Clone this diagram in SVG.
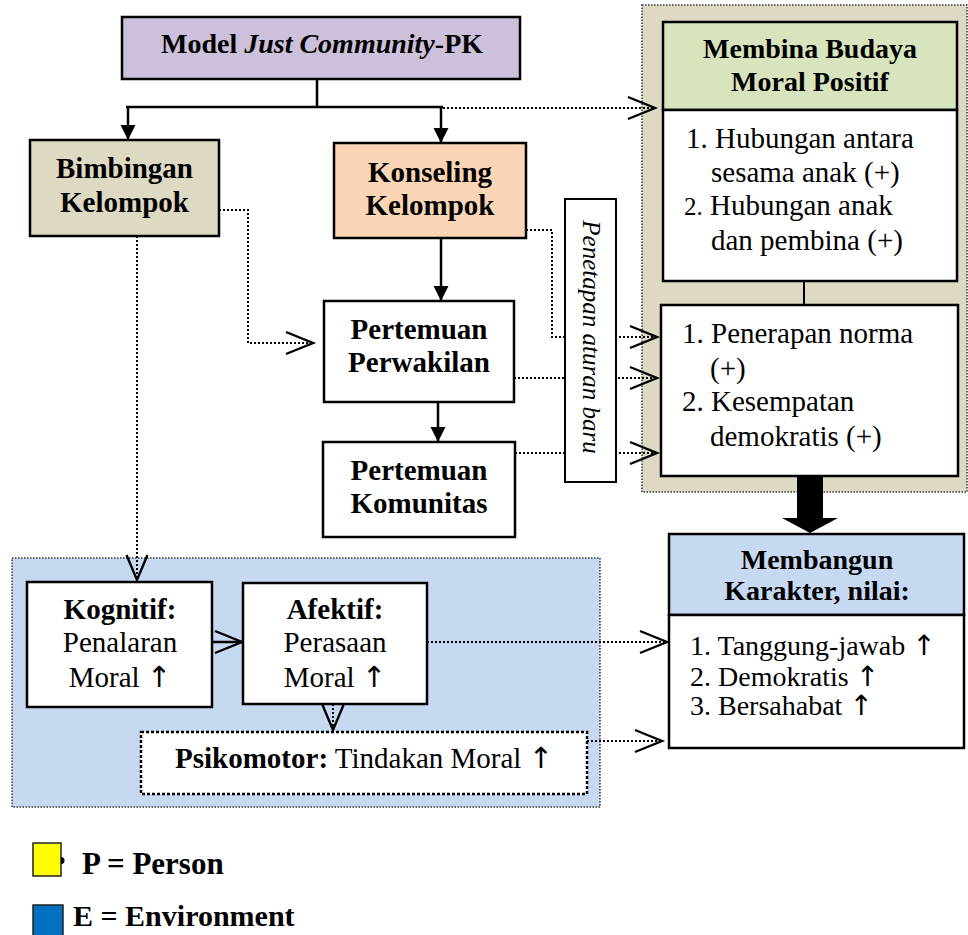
<svg xmlns="http://www.w3.org/2000/svg" width="968" height="935" viewBox="0 0 968 935">
<defs>
<style>
text{font-family:"Liberation Serif","DejaVu Serif",serif;fill:#000}
.b{font-weight:bold;font-size:29px}
.r{font-size:29px}
.c{text-anchor:middle}
.up{font-family:"DejaVu Sans",sans-serif;font-size:1em;fill:#000;font-weight:normal}
.box{stroke:#000;stroke-width:2.5}
.cont{stroke:#333;stroke-width:1.5;stroke-dasharray:1.5 1.5}
.sol{fill:none;stroke:#000;stroke-width:2.5}
.dot{fill:none;stroke:#000;stroke-width:2;stroke-dasharray:2 2}
</style>
<marker id="tri" markerUnits="userSpaceOnUse" markerWidth="16" markerHeight="16" refX="15" refY="7.5" orient="auto" overflow="visible">
<path d="M0,0 L15,7.5 L0,15 z" fill="#000"/>
</marker>
<marker id="open" markerUnits="userSpaceOnUse" markerWidth="30" markerHeight="24" refX="27" refY="11" orient="auto" overflow="visible">
<path d="M0,0 L27,11 L0,22" fill="none" stroke="#000" stroke-width="2.4"/>
</marker>
<marker id="openS" markerUnits="userSpaceOnUse" markerWidth="30" markerHeight="24" refX="25" refY="10.5" orient="auto" overflow="visible">
<path d="M0,0 L25,10.5 L0,21" fill="none" stroke="#000" stroke-width="2.4"/>
</marker>
</defs>

<g id="containers">
<rect id="tan-container" x="642" y="5" width="325" height="487" fill="#ddd9c3" class="cont"/>
<rect id="blue-container" x="12" y="558" width="588" height="249" fill="#c6d9f1" class="cont"/>
</g>

<g id="connectors">
<path class="sol" d="M317,79 V107 M126,107 H443"/>
<path class="sol" d="M128,107 V140" marker-end="url(#tri)"/>
<path class="sol" d="M441,107 V143" marker-end="url(#tri)"/>
<path class="dot" d="M443,108 H655" marker-end="url(#open)"/>
<path class="dot" d="M219,210 H248 V343 H313" marker-end="url(#open)"/>
<path class="dot" d="M137,236 V580" marker-end="url(#openS)"/>
<path class="sol" d="M441,238 V301" marker-end="url(#tri)"/>
<path class="sol" d="M438,402 V442" marker-end="url(#tri)"/>
<path class="dot" d="M526,230 H552 V337 H657" marker-end="url(#open)"/>
<path class="dot" d="M514,378 H657" marker-end="url(#open)"/>
<path class="dot" d="M515,453 H657" marker-end="url(#open)"/>
<path fill="none" stroke="#000" stroke-width="2" d="M804,281 V305"/>
<polygon points="797,476 823,476 823,518 838,518 810,533 782,518 797,518" fill="#000"/>
<path class="sol" d="M212,642 H242" marker-end="url(#open)"/>
<path class="dot" d="M333,704 V730" marker-end="url(#openS)"/>
<path class="dot" d="M427,642 H667" marker-end="url(#open)"/>
<path class="dot" d="M587,741 H662" marker-end="url(#open)"/>
</g>

<g id="model">
<rect x="122" y="17" width="398" height="62" fill="#ccc0da" class="box"/>
<text x="322" y="53" class="c" style="font-weight:bold;font-size:28px">Model <tspan font-style="italic">Just Community</tspan>-PK</text>
</g>

<g id="bimbingan">
<rect x="30" y="140" width="189" height="96" fill="#ddd9c3" class="box"/>
<text x="124.5" y="178" class="b c">Bimbingan</text>
<text x="124.5" y="212" class="b c">Kelompok</text>
</g>

<g id="konseling">
<rect x="334" y="143" width="192" height="95" fill="#fbd5b5" class="box"/>
<text x="430" y="182" class="b c">Konseling</text>
<text x="430" y="215" class="b c">Kelompok</text>
</g>

<g id="perwakilan">
<rect x="324" y="301" width="190" height="101" fill="#fff" class="box"/>
<text x="419" y="339" class="b c">Pertemuan</text>
<text x="419" y="372" class="b c">Perwakilan</text>
</g>

<g id="komunitas">
<rect x="323" y="442" width="192" height="95" fill="#fff" class="box"/>
<text x="419" y="480" class="b c">Pertemuan</text>
<text x="419" y="513" class="b c">Komunitas</text>
</g>

<g id="penetapan">
<rect x="565" y="199" width="51" height="283" fill="#fff" stroke="#000" stroke-width="2"/>
<text transform="translate(583,337) rotate(90)" class="c" style="font-style:italic;font-size:25px">Penetapan aturan baru</text>
</g>

<g id="membina">
<rect x="663" y="22" width="294" height="88" fill="#d7e4bd" class="box"/>
<text x="810" y="58" class="c" style="font-weight:bold;font-size:28px">Membina Budaya</text>
<text x="810" y="91" class="c" style="font-weight:bold;font-size:28px">Moral Positif</text>
<rect x="663" y="110" width="294" height="171" fill="#fff" class="box"/>
<text x="686" y="148" class="r">1. Hubungan antara</text>
<text x="711" y="182" class="r">sesama anak (+)</text>
<text x="684" y="215" class="r"><tspan font-size="25">2.</tspan> Hubungan anak</text>
<text x="711" y="250" class="r">dan pembina (+)</text>
</g>

<g id="norma">
<rect x="661" y="305" width="297" height="171" fill="#fff" class="box"/>
<text x="682" y="343" class="r">1. Penerapan norma</text>
<text x="710" y="378" class="r">(+)</text>
<text x="682" y="411" class="r">2. Kesempatan</text>
<text x="710" y="446" class="r">demokratis (+)</text>
</g>

<g id="membangun">
<rect x="669" y="534" width="295" height="81" fill="#c6d9f1" class="box"/>
<text x="817" y="569" class="c" style="font-weight:bold;font-size:28px">Membangun</text>
<text x="817" y="600" class="c" style="font-weight:bold;font-size:28px">Karakter, nilai:</text>
<rect x="669" y="615" width="295" height="133" fill="#fff" class="box"/>
<text x="690" y="655" style="font-size:28px">1. Tanggung-jawab <tspan class="up">↑</tspan></text>
<text x="690" y="686" style="font-size:28px">2. Demokratis <tspan class="up">↑</tspan></text>
<text x="690" y="715" style="font-size:28px">3. Bersahabat <tspan class="up">↑</tspan></text>
</g>

<g id="kognitif">
<rect x="27" y="582" width="185" height="125" fill="#fff" class="box"/>
<text x="120" y="619" class="b c">Kognitif:</text>
<text x="120" y="652" class="r c">Penalaran</text>
<text x="120" y="687" class="r c">Moral <tspan class="up">↑</tspan></text>
</g>

<g id="afektif">
<rect x="243" y="583" width="184" height="121" fill="#fff" class="box"/>
<text x="335" y="619" class="b c">Afektif:</text>
<text x="335" y="652" class="r c">Perasaan</text>
<text x="335" y="687" class="r c">Moral <tspan class="up">↑</tspan></text>
</g>

<g id="psikomotor">
<rect x="141" y="732" width="446" height="62" fill="#fff" stroke="#000" stroke-width="2.5" stroke-dasharray="3 2"/>
<text x="364" y="768" class="r c"><tspan font-weight="bold">Psikomotor:</tspan> Tindakan Moral <tspan class="up">↑</tspan></text>
</g>

<g id="legend">
<rect x="33" y="843" width="28" height="33" fill="#ffff00" stroke="#222" stroke-width="1.5"/>
<path d="M61,857 A3.5,3.5 0 0 1 61,864 z" fill="#000"/>
<text x="82" y="874" style="font-weight:bold;font-size:31px">P = Person</text>
<rect x="33" y="905" width="30" height="34" fill="#0070c0" stroke="#222" stroke-width="1.5"/>
<text x="73" y="926" style="font-weight:bold;font-size:30px">E = Environment</text>
</g>
</svg>
